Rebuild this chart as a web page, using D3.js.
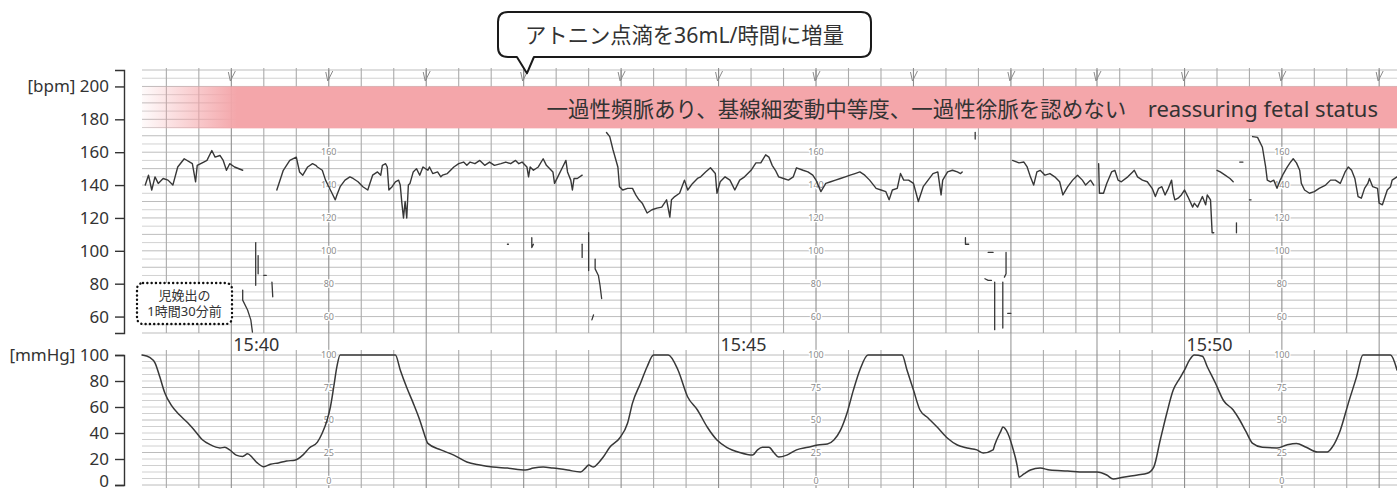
<!DOCTYPE html>
<html><head><meta charset="utf-8">
<script src="https://cdn.jsdelivr.net/npm/d3@7"></script>
<style>
html,body{margin:0;padding:0;background:#fff;}
svg{display:block;font-family:"Noto Sans","Noto Sans CJK JP",sans-serif;}
</style></head><body>
<svg id="c" width="1397" height="488"></svg>
<script>
// ---------- DATA (time = seconds after 15:39:00) ----------
const timeTickSeconds = [60, 360, 660];
const timeTickLabels = ["15:40", "15:45", "15:50"];
const fhrTickValues = [60, 80, 100, 120, 140, 160, 180, 200];
const ucTickValues = [0, 20, 40, 60, 80, 100];
const paperLabelSeconds = [120, 420, 720];
const paperFhrLabels = [60, 80, 100, 120, 140, 160];
const paperUcLabels = [0, 25, 50, 75, 100];
const annotationSecond = 242;
const annotationText = "アトニン点滴を36mL/時間に増量";
const assessmentJa = "一過性頻脈あり、基線細変動中等度、一過性徐脈を認めない";
const assessmentEn = "reassuring fetal status";
const noteLines = ["児娩出の", "1時間30分前"];

const fhrA = [[7,140],[9,146],[11,137],[13,145],[15,141],[18,144],[21,143],[24,140],[27,151],[31,156],[36,153],[38,142],[39,152],[43,154],[45,155],[48,161],[50,157],[53,158],[55,155],[57,149],[59,153],[62,151],[67,149]];
const fhrB = [[88,137],[92,149],[96,155],[100,157],[102,148],[104,146],[107,151],[110,153],[112,152],[113,151],[116,149],[118,143],[120,139],[122,135],[124,131],[125,134],[127,139],[130,143],[133,145],[135,144],[138,142],[141,139],[144,137],[145,140],[147,146],[150,148],[152,146],[153,152],[155,153],[156,151],[157,137],[159,139],[161,142],[163,143],[164,140],[165,129],[166,120],[167,130],[168,120],[169,140],[170,141],[172,148],[174,150],[176,146],[178,151],[181,149],[182,151],[184,147],[187,148],[189,145],[190,146],[193,147],[195,149],[197,151],[200,153],[203,154],[205,152],[207,154],[210,153],[213,155],[216,152],[219,154],[222,152],[226,153],[229,154],[232,153],[235,155],[237,153],[239,154],[242,151],[243,145],[244,151],[246,149],[249,151],[252,156],[254,152],[258,148],[259,141],[261,145],[264,151],[266,155],[267,148],[269,143],[270,137],[271,144],[273,144],[276,146]];
const fhrC = [[291,172],[293,169.5],[295,161.5],[298,151],[299,139],[301,137],[304,138],[307,138],[309,134],[311,131],[313,129],[316,123],[319,125],[322,126],[325,126.6],[328,131],[330,120.5],[331,131],[333,133],[336,135],[339,143],[341,137],[344,141],[347,144],[349,145],[352,148],[355,150.5],[358,147],[359,135],[361,142],[364,145],[367,143],[370,137],[373,143],[376,145],[380,149],[383,153.5],[386,153.5],[389,158.4],[391,157],[393,152],[395,149],[397,145],[400,144],[403,143],[406,145],[408,150.5],[412,149],[415,148],[418,146],[420,143],[423,136],[426,141],[429,142],[432,143],[435,144],[438,145],[441,146],[444,147],[447,148],[450,146],[453,143],[457,138],[460,137],[463,136],[465,131],[467,137],[470,138],[472,147],[474,143],[477,143],[480,141],[483,130],[486,139],[489,143],[492,147],[495,148],[497,134],[498,143],[501,148],[504,149],[507,148],[509,147],[510,148]];
const fhrD = [[541,155],[545,153.5],[548,154],[550,151],[552,145],[554,140],[556,148],[558,149],[561,146],[564,147],[567,145],[570,142],[572,134],[575,139],[578,143],[581,146],[584,143],[586,140],[589,143],[591,140]];
const fhrD2 = [[607,153],[607.5,135],[610,135],[612,141],[615,148],[617,149],[619,143],[621,142],[625,145],[628,148],[629,149],[631,145],[634,143],[637,142],[640,138],[642,133],[644,138],[646,139],[648,134],[650,138],[652,143],[653,135],[654,131],[656,132],[658,134],[660,137],[662,133],[665,126.6],[666,129],[668,126.6],[671,133],[673,128],[674,134],[676,131],[677,111],[678,111]];
const fhrD3 = [[680,149],[682,148],[685,146],[688,144],[690,142]];
const fhrE = [[702,169.5],[705,169],[708,163],[710,151],[711,143],[713,142],[715,143],[717,138],[719,143],[721,147],[723,150.5],[725,153.5],[727,156],[729,153.5],[731,149],[732,141],[734,137],[737,135],[740,136],[743,138],[747,140],[750,143],[753,143],[756,141],[759,148],[761,151],[763,149],[765,144],[767,133],[769,132],[771,138],[773,141],[774,144],[776,139],[779,138],[780,129],[782,128],[785,137],[787,139],[788,143],[791,145]];
const fhrArtifacts = [
  [[67,76],[67,70],[70,64],[72,58],[73,50.5]],
  [[75,105],[75,79]],
  [[76.5,97],[76.5,86]],
  [[80,85],[81.5,85]],
  [[85,81],[85.5,72]],
  [[230,104],[230.6,104]],
  [[245,108],[245,102],[246,104]],
  [[276,104],[276,96]],
  [[280,111],[280,88]],
  [[284,95],[284,89],[286,85],[287,79],[288,71]],
  [[282,58],[283,61]],
  [[518,172],[518,168]],
  [[512,108],[512,104],[514,104]],
  [[526,99],[529,99]],
  [[524,83],[526,82],[528,82]],
  [[530,81],[530,52]],
  [[535,81],[535,53]],
  [[537,99],[537,86],[536,84]],
  [[538,62],[540,62]],
  [[692,117],[692,111]],
  [[694,154],[696,154]],
  [[700,131],[701,131]]
];
const uc = [[5,100],[10,98],[13,94],[16,83],[19,71],[23,61.5],[28,54],[33,48],[38,41],[42,35],[47,31],[53,28.5],[56,29],[59,27],[63,23],[67,22],[70,24],[73,21],[76,17],[80,14],[84,16],[89,17],[94,18.5],[99,19],[104,23],[108,28.5],[113,33],[116,40],[119,50],[121,60],[123,75],[125,91],[127,100],[161,100],[164,88.5],[168,75],[172,63],[176,50],[179,38.5],[181,32],[189,27],[197,23],[205,17.7],[213,15.4],[221,13.8],[230,13],[241,11.5],[246,13],[252,13.8],[258,13],[267,11.5],[275,10],[278,13],[280,15.4],[283,13.8],[286,17],[289,21.5],[293,29],[299,36],[304,47.7],[307,63],[312,78.5],[316,91],[320,100],[329,100],[335,88.5],[341,67.7],[347,57.7],[353,44.6],[359,34.6],[365,29],[373,25],[381,23],[384,27],[387,29],[391,29],[394,25],[397,21.5],[402,23],[408,27],[415,29],[421,30.8],[427,31.5],[431,34.6],[435,42],[439,55],[443,73],[447,88.5],[452,100],[473,100],[476,88.5],[480,73],[484,57.7],[489,51.5],[495,44],[501,36],[507,30.8],[513,28.5],[519,27],[523,24.6],[529,27],[530,30.8],[534,42],[535,44.6],[538,40],[541,29],[544,13.8],[545,6],[548,8.5],[552,11.5],[558,13],[564,11.5],[575,10.8],[585,10],[593,10],[612,7.7],[616,4.6],[622,6],[631,7.7],[637,9],[641,13.8],[645,34.6],[649,55],[653,73],[657,82],[660,88.5],[663,96],[666,100],[671,99],[674,91],[679,78.5],[684,65],[690,57.7],[694,50],[698,40.8],[702,32],[708,29],[717,28.5],[723,30.8],[729,32],[735,29],[742,25.4],[748,25.4],[751,29],[756,42],[761,63],[766,83],[770,100],[787,100],[791,88.5]];

// ---------- SCALES ----------
const svg = d3.select("#c");
// paper was spliced around 15:48:53-15:49:06, hence the repeated range value
const x = d3.scaleLinear().domain([5, 593, 606, 791]).range([142, 1097, 1097, 1397]);
const yF = d3.scaleLinear().domain([50, 210]).range([333, 70]);
const yU = d3.scaleLinear().domain([0, 100]).range([485, 355]);
const paperL = 142, paperR = 1397;
const ucPaperTop = 350, ucPaperBottom = 488;

// ---------- PAPER GRID ----------
const grid = svg.append("g");
grid.selectAll(".hf").data(d3.range(50, 211, 5)).join("line")
  .attr("x1", paperL).attr("x2", paperR)
  .attr("y1", d => yF(d)).attr("y2", d => yF(d))
  .attr("stroke", d => d % 10 === 0 ? "#bdbdbd" : "#d2d2d2").attr("stroke-width", 1);
grid.selectAll(".hu").data(d3.range(0, 101, 5)).join("line")
  .attr("x1", paperL).attr("x2", paperR)
  .attr("y1", d => yU(d)).attr("y2", d => yU(d))
  .attr("stroke", d => d % 25 === 0 ? "#bcbcbc" : "#d0d0d0").attr("stroke-width", 1);
const vTimes = d3.range(20, 791, 20);
grid.selectAll(".vf").data(vTimes).join("line")
  .attr("x1", d => x(d)).attr("x2", d => x(d))
  .attr("y1", 68).attr("y2", yF(50))
  .attr("stroke", d => d % 60 === 0 ? "#8f8f8f" : "#ababab").attr("stroke-width", 1.1);
grid.selectAll(".vu").data(vTimes).join("line")
  .attr("x1", d => x(d)).attr("x2", d => x(d))
  .attr("y1", ucPaperTop).attr("y2", ucPaperBottom)
  .attr("stroke", d => d % 60 === 0 ? "#8f8f8f" : "#ababab").attr("stroke-width", 1.1);
grid.selectAll(".vg").data(vTimes.filter(d => d % 60 === 0)).join("line")
  .attr("x1", d => x(d)).attr("x2", d => x(d))
  .attr("y1", yF(50)).attr("y2", ucPaperTop)
  .attr("stroke", "#9a9a9a").attr("stroke-width", 1.1);

// paper scale prints
const prints = svg.append("g").attr("font-size", 9).attr("fill", "#8c8c8c")
  .attr("text-anchor", "middle");
paperLabelSeconds.forEach(t => {
  paperFhrLabels.forEach(v => {
    prints.append("text").attr("x", x(t)).attr("y", yF(v)).attr("dy", "0.35em")
      .attr("stroke", "#fff").attr("stroke-width", 2.5).attr("paint-order", "stroke").text(v);
  });
  paperUcLabels.forEach(v => {
    prints.append("text").attr("x", x(t)).attr("y", Math.min(yU(v), 481)).attr("dy", "0.35em")
      .attr("stroke", "#fff").attr("stroke-width", 2.5).attr("paint-order", "stroke").text(v);
  });
});
// top marker ticks on paper
svg.append("g").selectAll("path").data(d3.range(60, 791, 60)).join("path")
  .attr("d", d => `M${x(d)-3},72 L${x(d)-1},81 L${x(d)+4},71 M${x(d)},70 L${x(d)},80`)
  .attr("fill", "none").attr("stroke", "#8a8a8a").attr("stroke-width", 1);

// ---------- ASSESSMENT BAND ----------
const defs = svg.append("defs");
const grad = defs.append("linearGradient").attr("id", "bandGrad")
  .attr("gradientUnits", "userSpaceOnUse").attr("x1", paperL).attr("x2", paperL + 95).attr("y1", 0).attr("y2", 0);
grad.append("stop").attr("offset", 0).attr("stop-color", "#f4a6aa").attr("stop-opacity", 0.05);
grad.append("stop").attr("offset", 1).attr("stop-color", "#f4a6aa").attr("stop-opacity", 1);
svg.append("rect").attr("x", paperL).attr("width", paperR - paperL)
  .attr("y", yF(200)).attr("height", yF(174.5) - yF(200)).attr("fill", "url(#bandGrad)");
const bandText = svg.append("text").attr("x", 1378).attr("y", 117).attr("text-anchor", "end")
  .attr("fill", "#333").attr("font-family", "'Noto Sans','Noto Sans CJK JP',sans-serif");
bandText.append("tspan").attr("font-size", 21.5).text(assessmentJa + "\u3000");
bandText.append("tspan").attr("font-size", 22).text(assessmentEn);

// ---------- TRACES ----------
const fLine = d3.line().x(d => x(d[0])).y(d => yF(d[1]));
const traces = svg.append("g").attr("fill", "none").attr("stroke", "#383838")
  .attr("stroke-linejoin", "round").attr("stroke-linecap", "round");
[fhrA, fhrB, fhrC, fhrD, fhrD2, fhrD3, fhrE].forEach(seg => {
  traces.append("path").attr("d", fLine(seg)).attr("stroke-width", 1.4);
});
fhrArtifacts.forEach(seg => {
  traces.append("path").attr("d", fLine(seg)).attr("stroke-width", 1.3);
});
const uLine = d3.line().x(d => x(d[0])).y(d => yU(d[1])).curve(d3.curveMonotoneX);
traces.append("path").attr("d", uLine(uc)).attr("stroke-width", 1.5);

// ---------- TIME LABELS ----------
const tl = svg.append("g");
timeTickSeconds.forEach((t, i) => {
  tl.append("rect").attr("x", x(t) + 1).attr("y", 334).attr("width", 50).attr("height", 16).attr("fill", "#fff");
  tl.append("text").attr("x", x(t) + 2).attr("y", 351).attr("font-size", 18).attr("fill", "#333")
    .text(timeTickLabels[i]);
});

// ---------- AXES ----------
const axF = d3.axisLeft(yF).tickValues(fhrTickValues).tickSize(9).tickSizeOuter(9).tickPadding(6)
  .tickFormat(d => d === 200 ? "[bpm] 200" : d);
const gF = svg.append("g").attr("transform", "translate(124,0)").call(axF);
const axU = d3.axisLeft(yU).tickValues(ucTickValues).tickSize(9).tickSizeOuter(9).tickPadding(6)
  .tickFormat(d => d === 100 ? "[mmHg] 100" : d);
const gU = svg.append("g").attr("transform", "translate(124,0)").call(axU);
[gF, gU].forEach(g => {
  g.attr("font-family", null).attr("font-size", null);
  g.select(".domain").attr("stroke", "#333").attr("stroke-width", 1.4);
  g.selectAll(".tick line").attr("stroke", "#333").attr("stroke-width", 1.4);
  g.selectAll(".tick text").attr("fill", "#333").attr("font-size", 17)
    .attr("font-family", "'Noto Sans','Noto Sans CJK JP',sans-serif");
});
// keep the bottom "0" glyph visible at the picture's lower edge
gU.selectAll(".tick text").filter(d => d === 0).attr("dy", "0.1em");

// ---------- NOTE BOX ----------
const nb = svg.append("g");
nb.append("rect").attr("x", 137).attr("y", 283).attr("width", 95).attr("height", 41).attr("rx", 6)
  .attr("fill", "#fff").attr("stroke", "#111").attr("stroke-width", 2.4)
  .attr("stroke-dasharray", "0.1 4.2").attr("stroke-linecap", "round");
noteLines.forEach((s, i) => {
  nb.append("text").attr("x", 184.5).attr("y", 300 + i * 15.5).attr("text-anchor", "middle")
    .attr("font-size", 13).attr("fill", "#333").text(s);
});

// ---------- CALLOUT ----------
const px = x(annotationSecond);
const bx0 = 498, bx1 = 871, by0 = 12, by1 = 57, r = 10;
const calloutPath = `M${bx0 + r},${by0} H${bx1 - r} Q${bx1},${by0} ${bx1},${by0 + r} V${by1 - r} Q${bx1},${by1} ${bx1 - r},${by1}
  H${px + 7} L${px},${yF(208)} L${px - 10},${by1} H${bx0 + r} Q${bx0},${by1} ${bx0},${by1 - r} V${by0 + r} Q${bx0},${by0} ${bx0 + r},${by0} Z`;
svg.append("path").attr("d", calloutPath).attr("fill", "#fff").attr("stroke", "#1a1a1a")
  .attr("stroke-width", 2).attr("stroke-linejoin", "round");
svg.append("text").attr("x", (bx0 + bx1) / 2).attr("y", 42.5).attr("text-anchor", "middle")
  .attr("font-size", 21.3).attr("fill", "#333").text(annotationText);
</script>
</body></html>
